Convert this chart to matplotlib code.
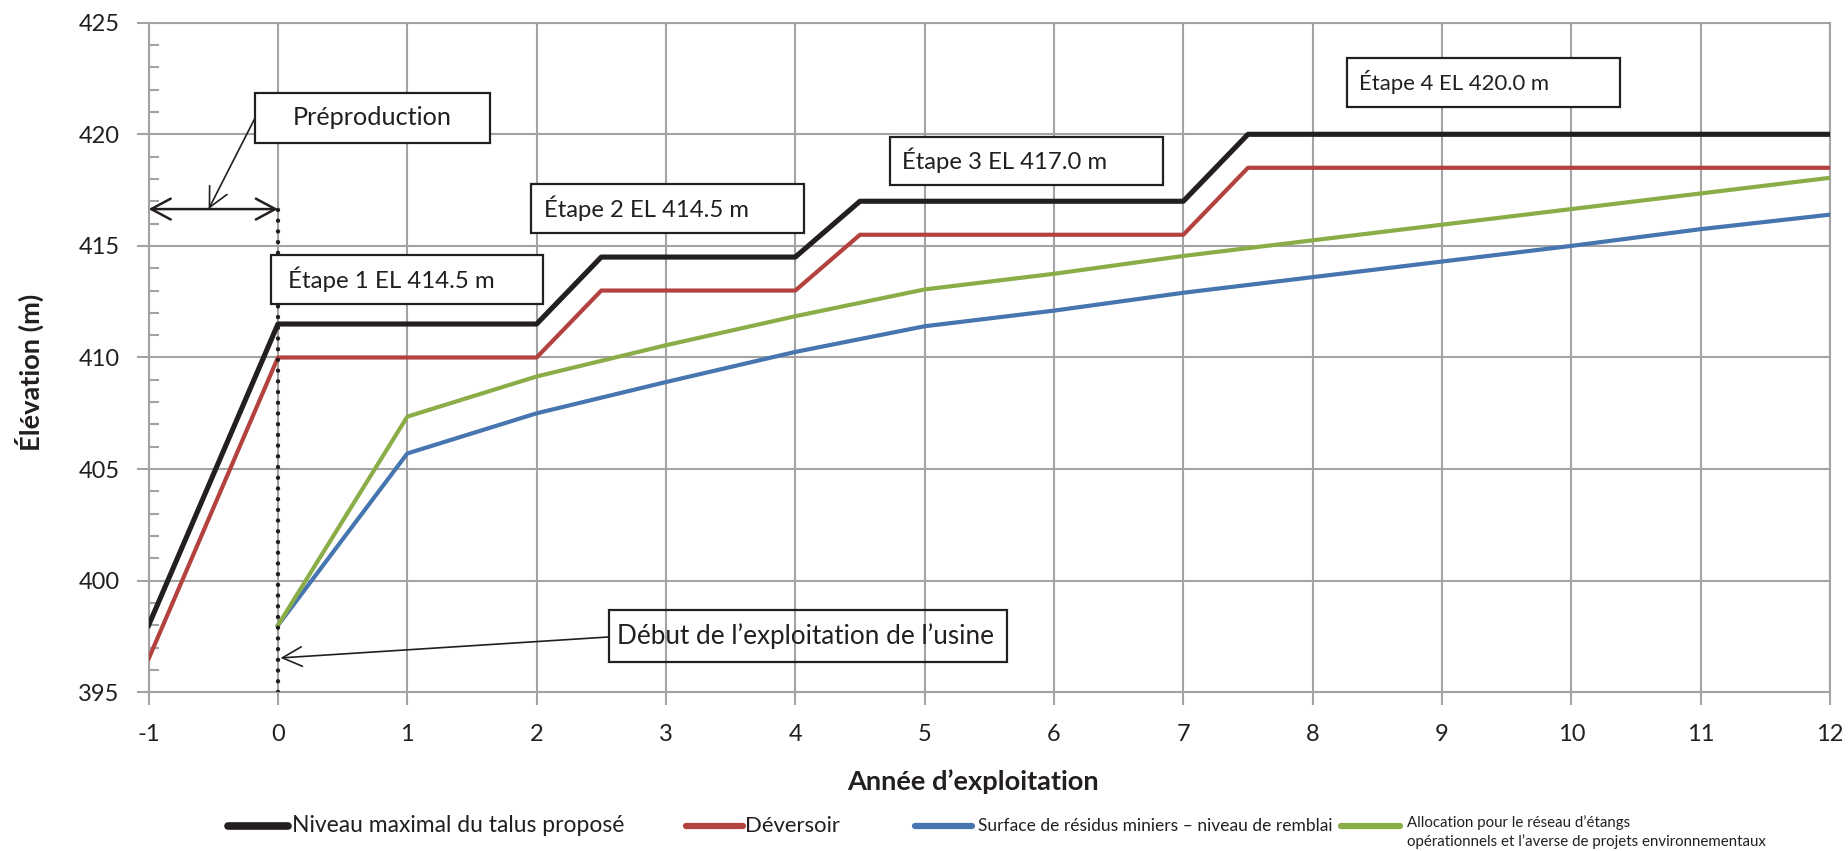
import matplotlib
matplotlib.use('Agg')
import matplotlib.pyplot as plt
from matplotlib.patches import Rectangle
from matplotlib.lines import Line2D
from matplotlib.ticker import MultipleLocator

# ---------------- data ----------------
step_years = [-1, 0, 2, 2.5, 4, 4.5, 7, 7.5, 12]
crest = [398, 411.5, 411.5, 414.5, 414.5, 417, 417, 420, 420]          # Niveau maximal du talus proposé
spillway = [396.5, 410, 410, 413, 413, 415.5, 415.5, 418.5, 418.5]      # Déversoir
years = [0, 1, 2, 3, 4, 5, 6, 7, 8, 9, 10, 11, 12]
tailings = [398, 405.7, 407.5, 408.9, 410.25, 411.4, 412.1, 412.9, 413.6, 414.3, 415.0, 415.75, 416.4]
allocation = [398, 407.35, 409.15, 410.55, 411.85, 413.05, 413.75, 414.55, 415.25, 415.95, 416.65, 417.35, 418.05]

series_labels = ["Niveau maximal du talus proposé", "Déversoir",
                 "Surface de résidus miniers – niveau de remblai",
                 "Allocation pour le réseau d’étangs\nopérationnels et l’averse de projets environnementaux"]
stage_labels = ["Étape 1 EL 414.5 m", "Étape 2 EL 414.5 m", "Étape 3 EL 417.0 m", "Étape 4 EL 420.0 m"]
preprod_label = "Préproduction"
start_label = "Début de l’exploitation de l’usine"
xlabel = "Année d’exploitation"
ylabel = "Élévation (m)"

BLACK = '#231f20'
RED = '#b3423e'
BLUE = '#4675b0'
GREEN = '#8aad48'
GRID = '#a3a3a3'

plt.rcParams['font.family'] = ['Lato', 'DejaVu Sans']
plt.rcParams['axes.unicode_minus'] = False

W, H = 1849, 851
fig = plt.figure(figsize=(W / 100, H / 100), dpi=100)
ax = fig.add_axes([148.6 / W, 1 - 692.3 / H, (1830 - 148.6) / W, (692.3 - 22.7) / H])
renderer = fig.canvas.get_renderer()


def fit(t, target_px):
    """Scale a text's font so its rendered width matches the reference width (pixels)."""
    w = t.get_window_extent(renderer).width
    t.set_fontsize(t.get_fontsize() * target_px / w)
    return t


ax.set_xlim(-1, 12)
ax.set_ylim(395, 425)
ax.set_xticks(range(-1, 13))
ax.set_yticks(range(395, 426, 5))
ax.yaxis.set_minor_locator(MultipleLocator(1))
ax.grid(True, which='major', color=GRID, lw=1.5)
ax.set_axisbelow(True)
for s in ax.spines.values():
    s.set_color(GRID)
    s.set_linewidth(1.5)
ax.tick_params(which='major', direction='out', length=9, width=1.5, color=GRID,
               labelsize=17, labelcolor=BLACK)
ax.tick_params(axis='x', which='major', pad=13.5)
ax.tick_params(axis='y', which='major', pad=12)
ax.tick_params(axis='y', which='minor', direction='in', length=7, width=1.5, color=GRID)
ax.tick_params(axis='x', which='minor', length=0)

ax.plot(step_years, crest, color=BLACK, lw=3.7, zorder=4)
ax.plot(step_years, spillway, color=RED, lw=3.0, zorder=4)
ax.plot(years, tailings, color=BLUE, lw=3.0, zorder=4)
ax.plot(years, allocation, color=GREEN, lw=3.0, zorder=4)

# dotted vertical line at year 0
ax.plot([0, 0], [395, 416.65], color=BLACK, lw=3.2, ls=(0, (0.01, 2.4)), dash_capstyle='round',
        solid_capstyle='round', zorder=5)

# arrows
ax.annotate('', xy=(-1, 416.65), xytext=(0, 416.65),
            arrowprops=dict(arrowstyle='<->,head_length=1.4,head_width=0.75', color=BLACK, lw=1.8,
                            shrinkA=0, shrinkB=0), zorder=6)
ax.annotate('', xy=(-0.536, 416.65), xytext=(-0.178, 420.72),
            arrowprops=dict(arrowstyle='->,head_length=1.4,head_width=0.7', color=BLACK, lw=1.2,
                            shrinkA=0, shrinkB=0), zorder=6)
ax.annotate('', xy=(0.02, 396.54), xytext=(2.561, 397.48),
            arrowprops=dict(arrowstyle='->,head_length=1.4,head_width=0.7', color=BLACK, lw=1.2,
                            shrinkA=0, shrinkB=0), zorder=6)


def box(x0, x1, y0, y1, text, target_w, tx=None, fill=True):
    r = Rectangle((x0, y0), x1 - x0, y1 - y0, facecolor='white' if fill else 'none',
                  edgecolor=BLACK, lw=1.6, zorder=7)
    ax.add_patch(r)
    if tx is None:
        t = ax.text((x0 + x1) / 2, (y0 + y1) / 2, text, ha='center', va='center', fontsize=17,
                    color=BLACK, zorder=8)
    else:
        t = ax.text(tx, (y0 + y1) / 2, text, ha='left', va='center', fontsize=17, color=BLACK, zorder=8)
    fit(t, target_w)


box(-0.178, 1.636, 419.63, 421.87, preprod_label, 159)
box(-0.053, 2.05, 412.41, 414.58, stage_labels[0], 206, tx=0.078)
box(1.958, 4.07, 415.6, 417.76, stage_labels[1], 205, tx=2.056)
box(4.73, 6.84, 417.75, 419.9, stage_labels[2], 205, tx=4.822)
box(8.266, 10.38, 421.24, 423.41, stage_labels[3], 190, tx=8.357)
box(2.561, 5.636, 396.34, 398.67, start_label, 375, tx=2.62, fill=False)

xl = fig.text(973 / W, 1 - 781.7 / H, xlabel, ha='center', va='center', fontsize=17, fontweight='bold',
              color=BLACK)
fit(xl, 253)
fig.text(29.5 / W, 1 - 372 / H, ylabel, ha='center', va='center', rotation=90, fontsize=xl.get_fontsize(),
         fontweight='bold', color=BLACK)

# legend (manual)
ly = 1 - 826 / H
entries = [
    (228, 288, BLACK, 5.5, 292, 331, 826),
    (686, 743, RED, 4.5, 745, 95, 826),
    (915, 972, BLUE, 4.5, 978, 353, 826),
    (1341, 1400, GREEN, 4.5, 1407, 359, 832),
]
for (x0, x1, c, lw, tx, tw, ty), lab in zip(entries, series_labels):
    fig.add_artist(Line2D([x0 / W, x1 / W], [ly, ly], transform=fig.transFigure, color=c, lw=lw,
                          solid_capstyle='round'))
    t = fig.text(tx / W, 1 - ty / H, lab, ha='left', va='center', fontsize=12, color=BLACK, linespacing=1.35)
    fit(t, tw)

fig.savefig('out.png', dpi=100)
